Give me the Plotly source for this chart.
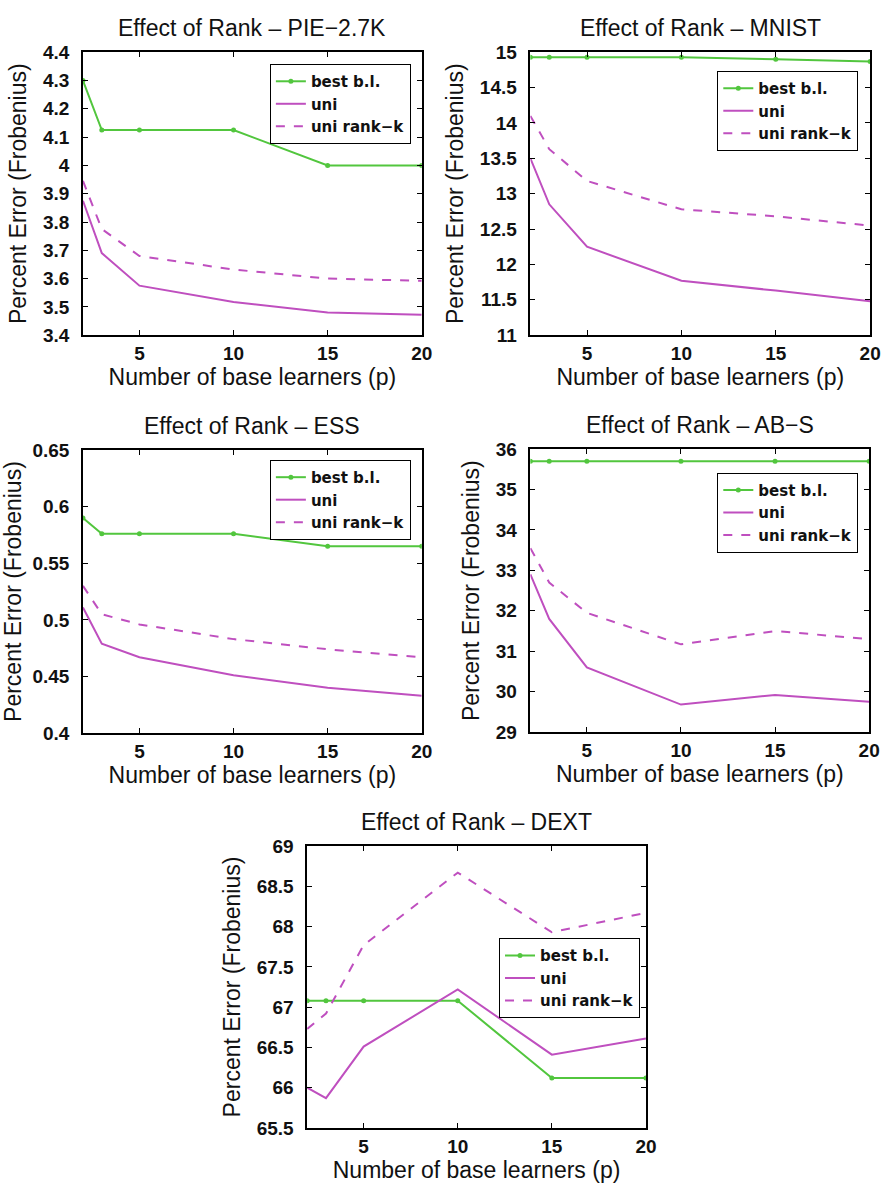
import plotly.graph_objects as go

p = [2, 3, 5, 10, 15, 20]

names = ["PIE\u22122.7K", "MNIST", "ESS", "AB\u2212S", "DEXT"]

pie_best = [4.3, 4.125, 4.125, 4.125, 4.0, 4.0]
pie_uni = [3.875, 3.69, 3.575, 3.517, 3.48, 3.472]
pie_rank = [3.945, 3.775, 3.68, 3.632, 3.6, 3.592]

mnist_best = [14.93, 14.93, 14.93, 14.93, 14.9, 14.87]
mnist_uni = [13.5, 12.85, 12.25, 11.77, 11.63, 11.48]
mnist_rank = [14.1, 13.63, 13.18, 12.78, 12.68, 12.55]

ess_best = [0.59, 0.576, 0.576, 0.576, 0.565, 0.565]
ess_uni = [0.511, 0.479, 0.467, 0.451, 0.44, 0.433]
ess_rank = [0.53, 0.505, 0.496, 0.483, 0.474, 0.467]

abs_best = [35.7, 35.7, 35.7, 35.7, 35.7, 35.7]
abs_uni = [32.9, 31.8, 30.6, 29.68, 29.92, 29.75]
abs_rank = [33.55, 32.7, 31.95, 31.17, 31.5, 31.3]

dext_best = [67.08, 67.08, 67.08, 67.08, 66.12, 66.12]
dext_uni = [66.0, 65.87, 66.51, 67.22, 66.41, 66.61]
dext_rank = [66.73, 66.92, 67.77, 68.67, 67.93, 68.17]

series = [
    (pie_best, pie_uni, pie_rank),
    (mnist_best, mnist_uni, mnist_rank),
    (ess_best, ess_uni, ess_rank),
    (abs_best, abs_uni, abs_rank),
    (dext_best, dext_uni, dext_rank),
]

y_ranges = [(3.4, 4.4, 0.1), (11, 15, 0.5), (0.4, 0.65, 0.05), (29, 36, 1), (65.5, 69, 0.5)]

W, H = 893, 1193
# pixel boxes of the plot areas: left, top, right, bottom
boxes = [(84, 43, 427, 331), (537, 43, 881, 331), (84, 448, 427, 736),
         (537, 447, 880, 735), (311, 851, 654, 1138)]
# legend boxes: right, top
legend_pos = [(416, 55), (869, 62), (416, 458), (869, 471), (648, 945)]


def px(xp):
    return xp / W


def py(yp):
    return 1 - yp / H


GREEN = "#52c63e"
MAGENTA = "#bf4fbf"
FONT = "Liberation Sans, Arial, sans-serif"

fig = go.Figure()
layout = dict(width=W, height=H, margin=dict(l=0, r=0, t=0, b=0),
              paper_bgcolor="white", plot_bgcolor="white",
              font=dict(family=FONT, color="#111"), annotations=[])

for i, (name, (best, uni, rank), (y0, y1, dy)) in enumerate(zip(names, series, y_ranges)):
    k = i + 1
    sfx = "" if k == 1 else str(k)
    leg = "legend" if k == 1 else f"legend{k}"
    fig.add_trace(go.Scatter(x=p, y=best, name="best b.l.", mode="lines+markers",
                             line=dict(color=GREEN, width=2), marker=dict(size=5, color=GREEN),
                             xaxis="x" + sfx, yaxis="y" + sfx, legend=leg))
    fig.add_trace(go.Scatter(x=p, y=uni, name="uni", mode="lines",
                             line=dict(color=MAGENTA, width=2),
                             xaxis="x" + sfx, yaxis="y" + sfx, legend=leg))
    fig.add_trace(go.Scatter(x=p, y=rank, name="uni rank\u2212k", mode="lines",
                             line=dict(color=MAGENTA, width=2, dash="dash"),
                             xaxis="x" + sfx, yaxis="y" + sfx, legend=leg))

    l, t, r, b = boxes[i]
    xd = [px(l), min(px(r), 1)]
    yd = [py(b), py(t)]
    ticks = []
    v = y0
    while v <= y1 + 1e-9:
        ticks.append(round(v, 4))
        v += dy
    common = dict(showline=True, linecolor="black", linewidth=1.5, mirror="ticks",
                  ticks="inside", ticklen=5, tickcolor="black", showgrid=False, zeroline=False,
                  tickfont=dict(size=19, weight="bold", color="#111"))
    layout["xaxis" + sfx] = dict(domain=xd, anchor="y" + sfx, range=[2, 20],
                                 tickvals=[5, 10, 15, 20], ticklabelstandoff=0,
                                 title=dict(text="Number of base learners (p)",
                                            font=dict(size=23), standoff=5),
                                 **common)
    layout["yaxis" + sfx] = dict(domain=yd, anchor="x" + sfx, range=[y0, y1],
                                 tickvals=ticks, ticklabelstandoff=8,
                                 title=dict(text="Percent Error (Frobenius)",
                                            font=dict(size=23), standoff=10),
                                 **common)
    layout["annotations"].append(dict(text=f"Effect of Rank \u2013 {name}", x=(xd[0] + xd[1]) / 2,
                                      y=yd[1], xref="paper", yref="paper", xanchor="center",
                                      yanchor="bottom", yshift=9, showarrow=False,
                                      font=dict(size=23, color="#111")))
    lr, lt = legend_pos[i]
    layout[leg] = dict(x=px(lr), y=py(lt), xanchor="right", yanchor="top",
                       xref="paper", yref="paper",
                       bgcolor="white", bordercolor="black", borderwidth=1,
                       font=dict(family="DejaVu Sans", size=15, weight="bold", color="#111"),
                       tracegroupgap=0, itemwidth=30)

fig.update_layout(**layout)
# let the figure fill the page without the default body margin
fig.write_html("out.html", config={"displayModeBar": False},
               post_script="document.body.style.margin='0';document.body.style.overflow='hidden';")
